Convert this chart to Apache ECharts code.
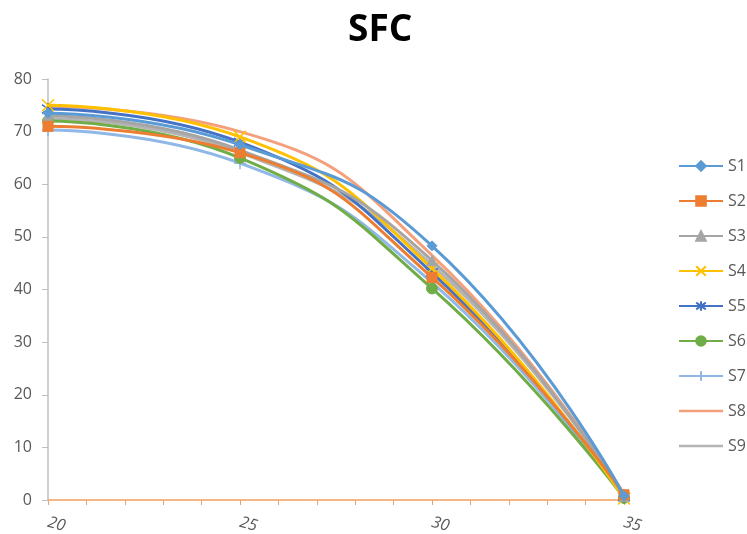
<!DOCTYPE html>
<html>
<head>
<meta charset="utf-8">
<script src="https://cdn.jsdelivr.net/npm/echarts@6/dist/echarts.min.js"></script>
<style>html,body{margin:0;padding:0;background:#fff;}#c{width:747px;height:534px;}</style>
</head>
<body>
<div id="c"></div>
<script>
const xValues = [20, 25, 30, 35];
const seriesNames = ['S1','S2','S3','S4','S5','S6','S7','S8','S9'];
const S1 = [73.5, 67.5, 48.3, 0.8];
const S2 = [71.0, 66.0, 42.3, 1.0];
const S3 = [73.0, 66.5, 45.5, 0.7];
const S4 = [75.0, 69.0, 44.0, 0.3];
const S5 = [74.3, 68.0, 43.2, 0.6];
const S6 = [72.0, 65.0, 40.2, 0.4];
const S7 = [70.3, 64.0, 41.3, 0.5];
const S8 = [74.8, 70.0, 46.5, 1.1];
const S9 = [72.5, 66.0, 44.7, 0.9];
const yTicks = [0, 10, 20, 30, 40, 50, 60, 70, 80];

const allValues = [S1,S2,S3,S4,S5,S6,S7,S8,S9];
const colors = ['#5B9BD5','#ED7D31','#A5A5A5','#FFC000','#4472C4','#70AD47','#8FB8E6','#F4A07C','#B4B4B4'];
const symbols = [
  'diamond','rect','triangle',
  'path://M-1,-1L1,1M1,-1L-1,1',
  'path://M-1,-1L1,1M1,-1L-1,1M0,-1.4L0,1.4',
  'circle',
  'path://M-1,0L1,0M0,-1L0,1',
  'none','none'
];
const symbolSizes = [10, 10, 10, 12, 12, 11, 12, 0, 0];

const chart = echarts.init(document.getElementById('c'));
const series = seriesNames.map((n, i) => {
  const isPath = symbols[i].startsWith('path://');
  return {
    name: n,
    type: 'line',
    smooth: 0.5,
    data: xValues.map((x, j) => [x, allValues[i][j]]),
    symbol: symbols[i],
    symbolSize: symbolSizes[i],
    showSymbol: symbols[i] !== 'none',
    lineStyle: { color: colors[i], width: 3 },
    itemStyle: isPath
      ? { color: 'none', borderColor: colors[i], borderWidth: 1.5 }
      : { color: colors[i], borderColor: colors[i], borderWidth: 1 },
    emphasis: { disabled: true },
    z: 10 - i
  };
});

const lineIcon = 'path://M0,0L44,0L44,2.5L0,2.5Z';
const legendData = seriesNames.map((n, i) =>
  symbols[i] === 'none'
    ? { name: n, icon: lineIcon, itemStyle: { color: colors[i], borderWidth: 0 } }
    : { name: n });

chart.setOption({
  animation: false,
  title: {
    text: 'SFC',
    left: 343,
    top: 7,
    textStyle: { fontFamily: 'Open Sans', fontWeight: 'bold', fontSize: 37, color: '#000' }
  },
  grid: { left: 48, right: 123, top: 79, bottom: 34, containLabel: false, outerBoundsMode: 'none' },
  legend: {
    orient: 'vertical',
    left: 673,
    top: 153,
    itemWidth: 44,
    itemHeight: 12,
    itemGap: 19,
    symbolKeepAspect: true,
    data: legendData,
    textStyle: { color: '#595959', fontSize: 16, fontFamily: 'Open Sans' }
  },
  xAxis: {
    type: 'value',
    min: 20,
    max: 35,
    interval: 5,
    splitLine: { show: false },
    axisLine: { show: true, lineStyle: { color: '#F4A060', width: 1.5 } },
    axisTick: { show: true, length: 5, lineStyle: { color: '#F4A060' } },
    minorTick: { show: true, splitNumber: 5, length: 5, lineStyle: { color: '#F4A060' } },
    axisLabel: { rotate: -15, margin: 22, color: '#595959', fontSize: 16, fontStyle: 'italic', fontFamily: 'Open Sans' }
  },
  yAxis: {
    type: 'value',
    min: 0,
    max: 80,
    interval: 10,
    splitLine: { show: false },
    axisLine: { show: true, lineStyle: { color: '#BFBFBF', width: 1.5 } },
    axisTick: { show: true, length: 6, lineStyle: { color: '#BFBFBF' } },
    axisLabel: {
      margin: 16, color: '#595959', fontSize: 16, fontFamily: 'Open Sans',
      formatter: v => yTicks.includes(v) ? String(v) : ''
    }
  },
  series: series
});
</script>
</body>
</html>
